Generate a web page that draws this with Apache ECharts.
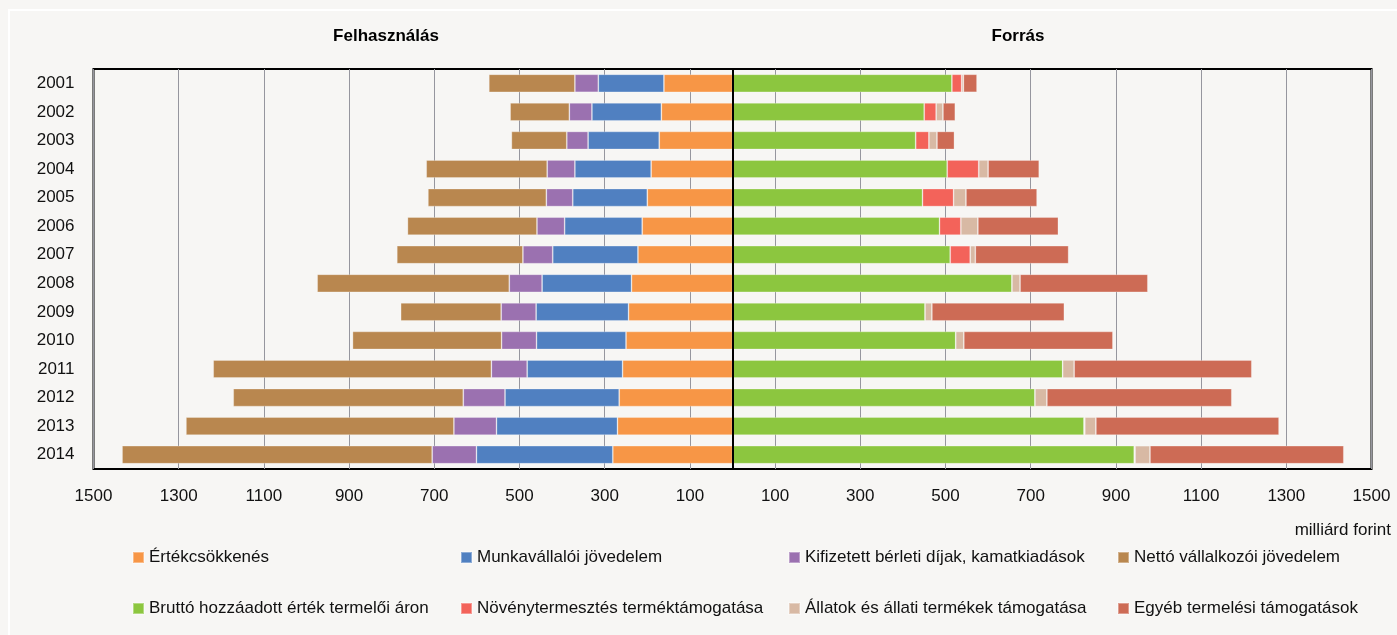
<!DOCTYPE html>
<html>
<head>
<meta charset="utf-8">
<script src="https://cdn.jsdelivr.net/npm/echarts@6/dist/echarts.min.js"></script>
<style>
  html, body { margin: 0; padding: 0; background: #f7f6f4; }
  #chart { width: 1397px; height: 635px; }
</style>
</head>
<body>
<div id="chart"></div>
<script>
// évek
const years = ['2001', '2002', '2003', '2004', '2005', '2006', '2007',
  '2008', '2009', '2010', '2011', '2012', '2013', '2014'];

// Felhasználás (bal oldal), milliárd forint
const ertekcsokkenes = [161, 167, 172, 191, 200, 212, 222, 237, 244, 250, 258, 266, 270, 281];
const munkavallaloi = [154, 163, 167, 179, 175, 182, 200, 210, 217, 210, 224, 268, 284, 320];
const berletiDijak = [55, 53, 50, 65, 62, 65, 70, 77, 82, 82, 84, 98, 100, 104];
const vallalkozoi = [202, 139, 130, 284, 278, 304, 296, 451, 236, 350, 653, 540, 629, 728];

// Forrás (jobb oldal)
const brutto = [515, 450, 430, 504, 446, 486, 511, 656, 452, 524, 775, 710, 825, 943];
const novenyTam = [23, 28, 31, 74, 73, 50, 47, 0, 0, 0, 0, 0, 2, 2];
const allatTam = [4, 16, 19, 22, 29, 40, 12, 19, 16, 19, 27, 28, 26, 35];
const egyebTam = [32, 29, 41, 120, 167, 189, 219, 300, 311, 350, 417, 434, 430, 455];

// x tengely osztásai
const tickValues = [-1500, -1300, -1100, -900, -700, -500, -300, -100,
  100, 300, 500, 700, 900, 1100, 1300, 1500];

const font = '"Liberation Sans", Arial, sans-serif';

const myChart = echarts.init(document.getElementById('chart'));

function bar(name, values, color, negative) {
  return {
    name: name,
    type: 'bar',
    stack: 'osszes',
    barWidth: '63%',
    data: values.map(v => (negative ? -v : v)),
    itemStyle: { color: color, borderColor: 'rgba(255,255,255,0.35)', borderWidth: 0.8 },
    emphasis: { disabled: true }
  };
}

const series = [
  bar('Értékcsökkenés', ertekcsokkenes, '#F79646', true),
  bar('Munkavállalói jövedelem', munkavallaloi, '#5080C1', true),
  bar('Kifizetett bérleti díjak, kamatkiadások', berletiDijak, '#9B71B0', true),
  bar('Nettó vállalkozói jövedelem', vallalkozoi, '#B9874F', true),
  bar('Bruttó hozzáadott érték termelői áron', brutto, '#8CC63F', false),
  bar('Növénytermesztés terméktámogatása', novenyTam, '#F3635A', false),
  bar('Állatok és állati termékek támogatása', allatTam, '#D8B9A4', false),
  bar('Egyéb termelési támogatások', egyebTam, '#CD6B55', false)
];

// fekete függőleges vonal a nullánál
series[7].markLine = {
  silent: true,
  symbol: 'none',
  label: { show: false },
  lineStyle: { color: '#000', width: 2, type: 'solid' },
  data: [{ xAxis: 0 }]
};

// 4 oszlopos jelmagyarázat, oszloponként két elem
const legendCols = [132, 460, 788, 1117];
const legends = legendCols.map((x, i) => ({
  orient: 'vertical',
  left: x,
  top: 549,
  padding: 0,
  icon: 'rect',
  itemWidth: 11,
  itemHeight: 11,
  itemGap: 34,
  selectedMode: false,
  data: [series[i].name, series[i + 4].name],
  textStyle: { fontFamily: font, fontSize: 17, color: '#111', padding: [0, 0, 0, 0] }
}));

myChart.setOption({
  backgroundColor: '#f7f6f4',
  animation: false,
  textStyle: { fontFamily: font },
  graphic: [
    {
      type: 'rect',
      shape: { x: 9, y: 10, width: 1400, height: 640 },
      style: { fill: 'none', stroke: '#ffffff', lineWidth: 2 },
      silent: true
    },
    {
      type: 'text', x: 386, y: 36,
      style: { text: 'Felhasználás', font: 'bold 17px ' + font, fill: '#000',
        textAlign: 'center', textVerticalAlign: 'middle' }
    },
    {
      type: 'text', x: 1018, y: 36,
      style: { text: 'Forrás', font: 'bold 17px ' + font, fill: '#000',
        textAlign: 'center', textVerticalAlign: 'middle' }
    },
    {
      type: 'text', x: 1391, y: 530,
      style: { text: 'milliárd forint', font: '17px ' + font, fill: '#111',
        textAlign: 'right', textVerticalAlign: 'middle' }
    }
  ],
  legend: legends,
  grid: {
    left: 93.5,
    right: 25.5,
    top: 69,
    bottom: 166,
    show: true,
    borderColor: '#000',
    borderWidth: 2
  },
  xAxis: {
    type: 'value',
    min: -1500,
    max: 1500,
    axisLine: { show: false },
    axisTick: { show: false, customValues: tickValues },
    axisLabel: {
      customValues: tickValues,
      formatter: v => String(Math.abs(v)),
      fontSize: 17,
      color: '#111',
      margin: 19
    },
    splitLine: { show: true, lineStyle: { color: '#96969e', width: 1 } }
  },
  yAxis: {
    type: 'category',
    data: years,
    inverse: true,
    axisLine: { show: false },
    axisTick: { show: false },
    axisLabel: { fontSize: 17, color: '#111', margin: 19 }
  },
  series: series
});
</script>
</body>
</html>
